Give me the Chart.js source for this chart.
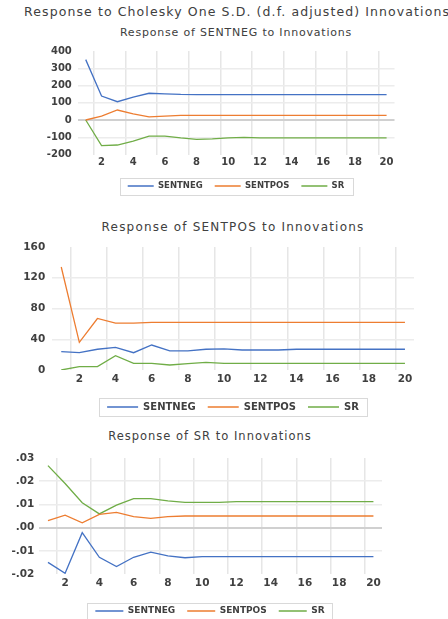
<!DOCTYPE html>
<html>
<head>
<meta charset="UTF-8">
<title>Response to Cholesky One S.D. Innovations</title>
<script src="https://cdn.jsdelivr.net/npm/chart.js"></script>
<style>
  body { margin: 0; background: #fff; width: 448px; height: 619px; overflow: hidden; position: relative; font-family: 'DejaVu Sans', sans-serif; }
  .main-title { position: absolute; left: 24px; top: 4px; font-size: 12.5px; letter-spacing: 1.1px; color: #404040; white-space: nowrap; }
  .sub-title { position: absolute; text-align: center; color: #404040; white-space: nowrap; line-height: 1; }
  .box { position: absolute; }
</style>
</head>
<body>
<div class="main-title">Response to Cholesky One S.D. (d.f. adjusted) Innovations</div>
<div class="sub-title" style="left:36px;width:400px;top:27px;font-size:11px;letter-spacing:0.8px;">Response of SENTNEG to Innovations</div>
<div class="sub-title" style="left:33px;width:400px;top:221px;font-size:12px;letter-spacing:1.2px;">Response of SENTPOS to Innovations</div>
<div class="sub-title" style="left:10px;width:400px;top:431px;font-size:11.5px;letter-spacing:1px;">Response of SR to Innovations</div>
<div class="box" style="left:24px;top:22px;width:424px;height:183px;"><canvas id="c1"></canvas></div>
<div class="box" style="left:18px;top:215px;width:430px;height:210px;"><canvas id="c2"></canvas></div>
<div class="box" style="left:0px;top:425px;width:420px;height:202px;"><canvas id="c3"></canvas></div>
<script>
// periods 1..20
const periods = ['1','2','3','4','5','6','7','8','9','10','11','12','13','14','15','16','17','18','19','20'];
const seriesNames = ['SENTNEG', 'SENTPOS', 'SR'];

// Response of SENTNEG
const negNeg = [350, 139, 106, 132, 155, 152, 148, 147, 147, 147, 147, 147, 147, 147, 147, 147, 147, 147, 147, 147];
const negPos = [0, 23, 58, 35, 18, 22, 27, 27, 27, 27, 27, 27, 27, 27, 27, 27, 27, 27, 27, 27];
const negSr = [0, -149, -145, -122, -93, -93, -104, -112, -110, -104, -101, -104, -104, -104, -104, -104, -104, -104, -104, -104];
const ticks1 = [-200, -100, 0, 100, 200, 300, 400];

// Response of SENTPOS
const posNeg = [24, 22.5, 27, 29.5, 22.5, 32.5, 25, 25, 27, 27.5, 26, 26, 26, 27, 27, 27, 27, 27, 27, 27];
const posPos = [134, 36, 67, 61, 61, 62, 62, 62, 62, 62, 62, 62, 62, 62, 62, 62, 62, 62, 62, 62];
const posSr = [0, 4.3, 4.5, 18.6, 8.7, 8.7, 6.5, 8.2, 10, 8.7, 8.7, 8.7, 8.7, 8.7, 8.7, 8.7, 8.7, 8.7, 8.7, 8.7];
const ticks2 = [0, 40, 80, 120, 160];

// Response of SR
const srNeg = [-0.015, -0.0197, -0.0022, -0.0128, -0.0168, -0.0128, -0.0106, -0.0122, -0.013, -0.0125, -0.0125, -0.0125, -0.0125, -0.0125, -0.0125, -0.0125, -0.0125, -0.0125, -0.0125, -0.0125];
const srPos = [0.003, 0.0054, 0.0021, 0.0057, 0.0066, 0.0047, 0.004, 0.0047, 0.005, 0.005, 0.005, 0.005, 0.005, 0.005, 0.005, 0.005, 0.005, 0.005, 0.005, 0.005];
const srSr = [0.0267, 0.019, 0.0107, 0.0059, 0.0097, 0.0125, 0.0125, 0.0115, 0.0109, 0.0109, 0.0109, 0.0112, 0.0112, 0.0112, 0.0112, 0.0112, 0.0112, 0.0112, 0.0112, 0.0112];
const ticks3 = [-0.02, -0.01, 0, 0.01, 0.02, 0.03];

const colors = ['#4472c4', '#ed7d31', '#70ad47'];
const FONT = "'DejaVu Sans', sans-serif";

// border round the legend, like the excel one
const legendFrame = {
  id: 'legendFrame',
  afterDraw(chart) {
    const boxes = chart.legend && chart.legend.legendHitBoxes;
    if (!boxes || !boxes.length) return;
    let x0 = Infinity, x1 = -Infinity, y0 = Infinity, y1 = -Infinity;
    boxes.forEach(b => { x0 = Math.min(x0, b.left); x1 = Math.max(x1, b.left + b.width); y0 = Math.min(y0, b.top); y1 = Math.max(y1, b.top + b.height); });
    const ctx = chart.ctx;
    ctx.save();
    ctx.strokeStyle = '#d9d9d9';
    ctx.lineWidth = 1;
    ctx.strokeRect(Math.round(x0 - 8) + 0.5, Math.round(y0 - 4) + 0.5, Math.round(x1 - x0 + 16), Math.round(y1 - y0 + 8));
    ctx.restore();
  }
};

function fmtSmall(v) {
  const s = Math.abs(v).toFixed(2).replace(/^0/, '');
  return (v < 0 ? '-' : '') + s;
}

function makeChart(id, o) {
  const minV = o.ticks[0], maxV = o.ticks[o.ticks.length - 1];
  return new Chart(document.getElementById(id), {
    type: 'line',
    data: {
      labels: periods,
      datasets: seriesNames.map((n, i) => ({
        label: n,
        data: o.values[i],
        borderColor: colors[i],
        backgroundColor: colors[i],
        borderWidth: 1.3,
        pointRadius: 0,
        tension: 0
      }))
    },
    options: {
      responsive: true,
      maintainAspectRatio: false,
      animation: false,
      layout: { padding: { left: 0, right: 0, top: o.padTop, bottom: o.padBottom } },
      plugins: {
        title: { display: false },
        legend: {
          position: 'bottom',
          labels: {
            boxWidth: o.boxW,
            boxHeight: 0,
            padding: 12,
            color: '#404040',
            font: { family: FONT, size: o.legendSize, weight: 'bold' }
          }
        },
        tooltip: { enabled: false }
      },
      scales: {
        x: {
          type: 'category',
          offset: true,
          border: { display: false },
          grid: {
            offset: true,
            drawTicks: false,
            lineWidth: 1.5,
            color: c => (c.index !== undefined && c.index % 2 === 1) ? '#e6e6e6' : 'rgba(0,0,0,0)'
          },
          ticks: {
            autoSkip: false,
            maxRotation: 0,
            padding: o.xPad,
            color: '#404040',
            font: { family: FONT, size: o.tickSize, weight: 'bold' },
            callback: (v, i) => (i % 2 === 1 ? periods[i] : '')
          },
          afterFit: s => { s.height = o.xHeight; }
        },
        y: {
          min: minV,
          max: maxV,
          border: { display: false },
          grid: {
            drawTicks: false,
            lineWidth: c => (c.tick && c.tick.value === 0 ? 2 : 1.5),
            color: c => {
              const v = c.tick ? c.tick.value : null;
              if (v === minV || v === maxV) return 'rgba(0,0,0,0)';
              return v === 0 ? '#d0d0d0' : '#ececec';
            }
          },
          afterBuildTicks: s => { s.ticks = o.ticks.map(v => ({ value: v })); },
          ticks: {
            padding: o.yPad,
            color: '#404040',
            font: { family: FONT, size: o.tickSize, weight: 'bold' },
            callback: o.fmt
          },
          afterFit: s => { s.width = o.yWidth; }
        },
        // empty axis on the right, keeps plot / legend centred
        yr: {
          type: 'linear',
          position: 'right',
          border: { display: false },
          grid: { display: false, drawTicks: false },
          ticks: { display: false },
          afterFit: s => { s.width = o.padRight; }
        }
      }
    },
    plugins: [legendFrame]
  });
}

makeChart('c1', {
  values: [negNeg, negPos, negSr], ticks: ticks1, fmt: v => String(v),
  padTop: 29, yWidth: 53.8, padRight: 53.5, yPad: 6, xPad: 1.5, xHeight: 15.25, padBottom: 4.75,
  tickSize: 10, legendSize: 8.5, boxW: 26
});
makeChart('c2', {
  values: [posNeg, posPos, posSr], ticks: ticks2, fmt: v => String(v),
  padTop: 32, yWidth: 34.2, padRight: 34, yPad: 7, xPad: 3, xHeight: 20, padBottom: 3,
  tickSize: 10.5, legendSize: 10, boxW: 31
});
makeChart('c3', {
  values: [srNeg, srPos, srSr], ticks: ticks3, fmt: v => fmtSmall(v),
  padTop: 33, yWidth: 39.4, padRight: 38, yPad: 5, xPad: 3, xHeight: 20.5, padBottom: 1.5,
  tickSize: 10.5, legendSize: 9, boxW: 28
});
</script>
</body>
</html>
